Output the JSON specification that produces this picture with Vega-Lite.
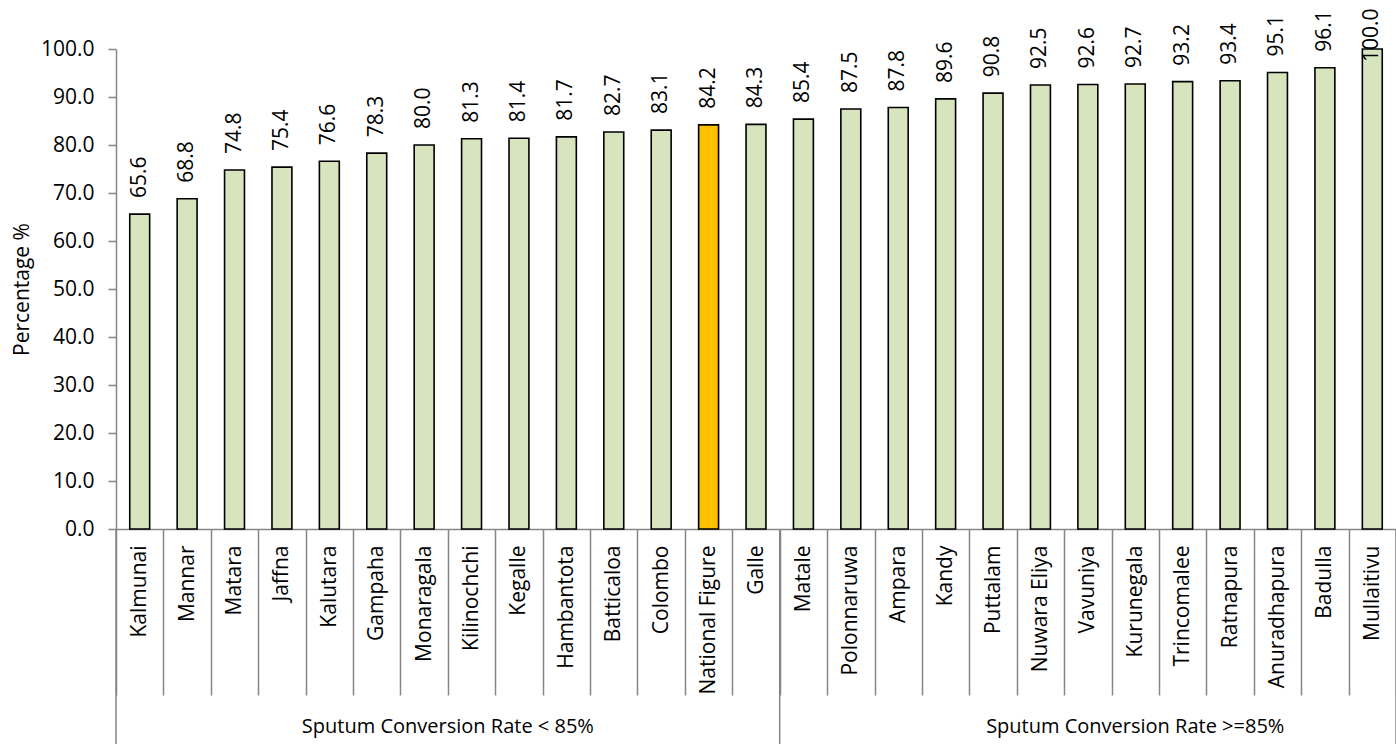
{
  "$schema": "https://vega.github.io/schema/vega-lite/v6.json",
  "width": 1280,
  "height": 480,
  "autosize": {"type": "none"},
  "padding": {"left": 116, "top": 49, "right": 0, "bottom": 215},
  "background": "white",
  "config": {
    "font": "Open Sans",
    "view": {"stroke": null},
    "axis": {"labelFont": "Open Sans", "titleFont": "Open Sans", "labelColor": "#000000", "titleColor": "#000000"}
  },
  "datasets": {
    "rates": [
      {"district": "Kalmunai", "rate": 65.6, "kind": "District"},
      {"district": "Mannar", "rate": 68.8, "kind": "District"},
      {"district": "Matara", "rate": 74.8, "kind": "District"},
      {"district": "Jaffna", "rate": 75.4, "kind": "District"},
      {"district": "Kalutara", "rate": 76.6, "kind": "District"},
      {"district": "Gampaha", "rate": 78.3, "kind": "District"},
      {"district": "Monaragala", "rate": 80.0, "kind": "District"},
      {"district": "Kilinochchi", "rate": 81.3, "kind": "District"},
      {"district": "Kegalle", "rate": 81.4, "kind": "District"},
      {"district": "Hambantota", "rate": 81.7, "kind": "District"},
      {"district": "Batticaloa", "rate": 82.7, "kind": "District"},
      {"district": "Colombo", "rate": 83.1, "kind": "District"},
      {"district": "National Figure", "rate": 84.2, "kind": "National"},
      {"district": "Galle", "rate": 84.3, "kind": "District"},
      {"district": "Matale", "rate": 85.4, "kind": "District"},
      {"district": "Polonnaruwa", "rate": 87.5, "kind": "District"},
      {"district": "Ampara", "rate": 87.8, "kind": "District"},
      {"district": "Kandy", "rate": 89.6, "kind": "District"},
      {"district": "Puttalam", "rate": 90.8, "kind": "District"},
      {"district": "Nuwara Eliya", "rate": 92.5, "kind": "District"},
      {"district": "Vavuniya", "rate": 92.6, "kind": "District"},
      {"district": "Kurunegala", "rate": 92.7, "kind": "District"},
      {"district": "Trincomalee", "rate": 93.2, "kind": "District"},
      {"district": "Ratnapura", "rate": 93.4, "kind": "District"},
      {"district": "Anuradhapura", "rate": 95.1, "kind": "District"},
      {"district": "Badulla", "rate": 96.1, "kind": "District"},
      {"district": "Mullaitivu", "rate": 100.0, "kind": "District"}
    ]
  },
  "layer": [
    {
      "data": {"name": "rates"},
      "mark": {"type": "bar", "stroke": "#000000", "strokeWidth": 1.6, "width": {"band": 0.42}},
      "encoding": {
        "x": {
          "field": "district", "type": "nominal", "sort": null,
          "scale": {
            "domain": ["Kalmunai","Mannar","Matara","Jaffna","Kalutara","Gampaha","Monaragala","Kilinochchi","Kegalle","Hambantota","Batticaloa","Colombo","National Figure","Galle","Matale","Polonnaruwa","Ampara","Kandy","Puttalam","Nuwara Eliya","Vavuniya","Kurunegala","Trincomalee","Ratnapura","Anuradhapura","Badulla","Mullaitivu"],
            "paddingInner": 0, "paddingOuter": 0
          },
          "axis": {
            "title": null, "labelAngle": -90, "labelFontSize": 21, "labelPadding": -150,
            "tickBand": "extent", "tickSize": 166, "tickColor": "#868686", "tickWidth": 1.5,
            "domainColor": "#868686", "domainWidth": 1.5, "labelOverlap": false
          }
        },
        "y": {
          "field": "rate", "type": "quantitative",
          "scale": {"domain": [0, 100], "nice": false},
          "axis": {
            "title": "Percentage %", "titleFontSize": 21, "titleFontWeight": "normal", "titlePadding": 8,
            "format": ".1f", "values": [0,10,20,30,40,50,60,70,80,90,100],
            "labelFontSize": 21, "labelPadding": 14, "tickSize": 8, "tickColor": "#868686", "tickWidth": 1.5,
            "domainColor": "#868686", "domainWidth": 1.5, "grid": false
          }
        },
        "color": {
          "field": "kind", "type": "nominal",
          "scale": {"domain": ["District", "National"], "range": ["#d7e4bd", "#ffc000"]},
          "legend": null
        }
      }
    },
    {
      "data": {"name": "rates"},
      "transform": [{"filter": "datum.rate < 100"}],
      "mark": {"type": "text", "angle": 270, "align": "left", "baseline": "middle", "dx": 16, "fontSize": 21, "color": "#000000"},
      "encoding": {
        "x": {"field": "district", "type": "nominal", "sort": null},
        "y": {"field": "rate", "type": "quantitative"},
        "text": {"field": "rate", "type": "quantitative", "format": ".1f"}
      }
    },
    {
      "data": {"name": "rates"},
      "transform": [{"filter": "datum.rate >= 100"}],
      "mark": {"type": "text", "angle": 270, "align": "left", "baseline": "middle", "dx": -13, "fontSize": 21, "color": "#000000"},
      "encoding": {
        "x": {"field": "district", "type": "nominal", "sort": null},
        "y": {"field": "rate", "type": "quantitative"},
        "text": {"field": "rate", "type": "quantitative", "format": ".1f"}
      }
    },
    {
      "data": {"values": [{"anchor": "Kalmunai"}, {"anchor": "Matale"}]},
      "mark": {"type": "rule", "color": "#868686", "strokeWidth": 1.5},
      "encoding": {
        "x": {"field": "anchor", "type": "nominal", "bandPosition": 0},
        "y": {"datum": 0},
        "y2": {"datum": -46}
      }
    },
    {
      "data": {"values": [{"anchor": "Mullaitivu"}]},
      "mark": {"type": "rule", "color": "#868686", "strokeWidth": 1.5},
      "encoding": {
        "x": {"field": "anchor", "type": "nominal", "bandPosition": 1},
        "y": {"datum": 0},
        "y2": {"datum": -46}
      }
    },
    {
      "data": {"values": [{"anchor": "Kilinochchi", "label": "Sputum Conversion Rate < 85%"}]},
      "mark": {"type": "text", "fontSize": 20, "baseline": "middle", "align": "center", "color": "#000000"},
      "encoding": {
        "x": {"field": "anchor", "type": "nominal", "bandPosition": 0},
        "y": {"datum": -41.2},
        "text": {"field": "label"}
      }
    },
    {
      "data": {"values": [{"anchor": "Kurunegala", "label": "Sputum Conversion Rate >=85%"}]},
      "mark": {"type": "text", "fontSize": 20, "baseline": "middle", "align": "center", "color": "#000000"},
      "encoding": {
        "x": {"field": "anchor", "type": "nominal", "bandPosition": 0.5},
        "y": {"datum": -41.2},
        "text": {"field": "label"}
      }
    }
  ]
}
